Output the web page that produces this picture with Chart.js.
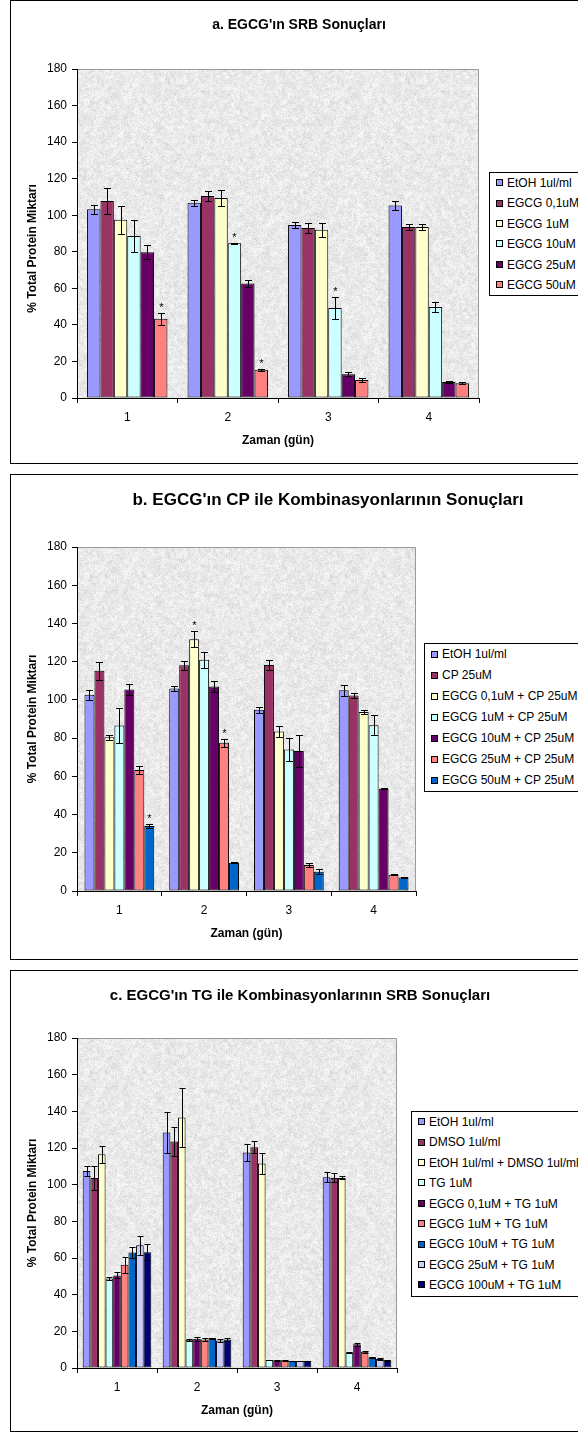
<!DOCTYPE html>
<html>
<head>
<meta charset="utf-8">
<script src="https://cdn.jsdelivr.net/npm/chart.js@4.4.1/dist/chart.umd.min.js"></script>
<style>
  html, body { margin: 0; padding: 0; background: #fff; }
  body { position: relative; width: 578px; height: 1433px; overflow: hidden; font-family: Arial, "Liberation Sans", sans-serif; color: #000; }
  .frame { position: absolute; left: 10px; width: 640px; border: 1px solid #000; box-sizing: border-box; }
  canvas { position: absolute; left: 0; }
  .title { position: absolute; transform: translate(-50%, -50%); white-space: nowrap; font-weight: bold; }
  .legend { position: absolute; width: 220px; border: 1px solid #000; background: #fff; font-size: 12px; }
  .legend div { position: relative; white-space: nowrap; }
  .legend span { position: absolute; top: 50%; width: 7px; height: 7px; margin-top: -4px; border: 1px solid #000; box-sizing: border-box; }
</style>
</head>
<body>
<div class="frame" style="top:0;height:464px"></div>
<div class="frame" style="top:474px;height:486px"></div>
<div class="frame" style="top:970px;height:462px"></div>

<canvas id="srbChart" width="578" height="463" style="top:0"></canvas>
<canvas id="cpChart" width="578" height="485" style="top:474px"></canvas>
<canvas id="tgChart" width="578" height="461" style="top:970px"></canvas>

<div class="title" style="left:299px;top:24px;font-size:14px">a. EGCG'ın SRB Sonuçları</div>
<div class="title" style="left:328px;top:500px;font-size:17px">b. EGCG'ın CP ile Kombinasyonlarının Sonuçları</div>
<div class="title" style="left:300px;top:994px;font-size:15px">c. EGCG'ın TG ile Kombinasyonlarının SRB Sonuçları</div>

<div class="legend" id="srbLegend" style="left:489px;top:172px"></div>
<div class="legend" id="cpLegend" style="left:424px;top:643px"></div>
<div class="legend" id="tgLegend" style="left:411px;top:1111px"></div>

<script>
const days = ['1', '2', '3', '4'];

// a. EGCG alone
const srbSeries = ['EtOH 1ul/ml', 'EGCG 0,1uM', 'EGCG 1uM', 'EGCG 10uM', 'EGCG 25uM', 'EGCG 50uM'];
const srbValues = [
  [103.3, 106.8, 94.6, 105.3],
  [107.8, 110.5, 93.0, 93.5],
  [97.5, 109.4, 92.0, 93.5],
  [88.7, 84.7, 49.3, 49.8],
  [79.8, 62.6, 13.0, 8.7],
  [43.3, 15.5, 9.8, 8.1],
];
const srbErrors = [
  [2.5, 1.7, 1.5, 2.5],
  [6.9, 2.6, 2.5, 1.5],
  [7.5, 4.5, 4.0, 1.5],
  [8.6, 0.3, 6.2, 2.5],
  [3.9, 1.8, 1.2, 0.5],
  [3.2, 0.5, 1.2, 0.6],
];
const srbStars = [
  [0, 0, 0, 0],
  [0, 0, 0, 0],
  [0, 0, 0, 0],
  [0, 1, 1, 0],
  [0, 0, 0, 0],
  [1, 1, 0, 0],
];

// b. EGCG + CP
const cpSeries = ['EtOH 1ul/ml', 'CP 25uM', 'EGCG 0,1uM + CP 25uM', 'EGCG 1uM + CP 25uM',
  'EGCG 10uM + CP 25uM', 'EGCG 25uM + CP 25uM', 'EGCG 50uM + CP 25uM'];
const cpValues = [
  [102.7, 106.0, 94.8, 105.0],
  [115.2, 118.1, 118.3, 102.3],
  [80.4, 131.7, 83.5, 93.7],
  [86.6, 121.0, 74.1, 86.7],
  [105.5, 107.0, 73.3, 53.5],
  [63.3, 77.6, 13.6, 8.5],
  [34.0, 14.8, 10.1, 7.0],
];
const cpErrors = [
  [2.6, 1.4, 1.4, 2.9],
  [4.6, 2.2, 2.8, 1.3],
  [1.2, 4.1, 3.0, 1.1],
  [9.2, 4.2, 6.2, 5.3],
  [2.9, 3.0, 8.5, 0.3],
  [2.0, 2.1, 1.2, 0.3],
  [1.0, 0.3, 1.4, 0.3],
];
const cpStars = [
  [0, 0, 0, 0],
  [0, 0, 0, 0],
  [0, 1, 0, 0],
  [0, 0, 0, 0],
  [0, 0, 0, 0],
  [0, 1, 0, 0],
  [1, 0, 0, 0],
];

// c. EGCG + TG
const tgSeries = ['EtOH 1ul/ml', 'DMSO 1ul/ml', 'EtOH 1ul/ml + DMSO 1ul/ml', 'TG 1uM',
  'EGCG 0,1uM + TG 1uM', 'EGCG 1uM + TG 1uM', 'EGCG 10uM + TG 1uM',
  'EGCG 25uM + TG 1uM', 'EGCG 100uM + TG 1uM'];
const tgValues = [
  [107.5, 128.5, 117.6, 104.1],
  [103.6, 123.6, 120.4, 103.7],
  [116.6, 136.7, 111.6, 103.7],
  [48.8, 15.4, 4.4, 8.4],
  [50.5, 15.9, 4.2, 12.9],
  [56.3, 15.5, 4.2, 8.8],
  [63.0, 16.2, 3.8, 5.8],
  [67.0, 15.0, 3.8, 4.9],
  [63.2, 15.6, 3.8, 4.2],
];
const tgErrors = [
  [2.5, 11.0, 4.6, 2.7],
  [6.5, 8.0, 3.2, 2.4],
  [4.6, 16.3, 5.8, 0.8],
  [0.6, 0.5, 0.2, 0.3],
  [1.6, 1.0, 0.3, 1.0],
  [4.5, 0.6, 0.3, 0.6],
  [2.8, 0.3, 0.2, 0.3],
  [5.1, 1.0, 0.2, 0.3],
  [4.4, 1.0, 0.2, 0.4],
];
const tgStars = tgSeries.map(() => [0, 0, 0, 0]);

const srbColors = ['#9999ff', '#993366', '#ffffcc', '#ccffff', '#660066', '#ff8080'];
const cpColors = ['#9999ff', '#993366', '#ffffcc', '#ccffff', '#660066', '#ff8080', '#0066cc'];
const tgColors = ['#9999ff', '#993366', '#ffffcc', '#ccffff', '#660066', '#ff8080', '#0066cc', '#ccccff', '#000080'];

const FONT = 'Arial, "Liberation Sans", sans-serif';
Chart.defaults.font.family = FONT;
Chart.defaults.font.size = 12;
Chart.defaults.color = '#000';

// granite-like grey texture for the plot area (fixed hash noise, fine grain + soft blotches)
const hash = (x, y) => Math.abs(Math.sin(x * 12.9898 + y * 78.233) * 43758.5453) % 1;
const TEX = 240;
const texture = document.createElement('canvas');
texture.width = texture.height = TEX;
(() => {
  const g = texture.getContext('2d');
  const img = g.createImageData(TEX, TEX);
  for (let y = 0; y < TEX; y++) {
    for (let x = 0; x < TEX; x++) {
      const h = hash(x, y);
      const v = Math.round(251 - 24 * h * h);
      const k = (y * TEX + x) * 4;
      img.data[k] = img.data[k + 1] = img.data[k + 2] = v;
      img.data[k + 3] = 255;
    }
  }
  g.putImageData(img, 0, 0);

  const n = TEX / 3;
  const coarse = document.createElement('canvas');
  coarse.width = coarse.height = n;
  const cg = coarse.getContext('2d');
  const cimg = cg.createImageData(n, n);
  for (let y = 0; y < n; y++) {
    for (let x = 0; x < n; x++) {
      const v = Math.round(255 - 20 * hash(x + 300, y + 500));
      const k = (y * n + x) * 4;
      cimg.data[k] = cimg.data[k + 1] = cimg.data[k + 2] = v;
      cimg.data[k + 3] = 255;
    }
  }
  cg.putImageData(cimg, 0, 0);
  g.globalCompositeOperation = 'multiply';
  g.imageSmoothingEnabled = true;
  g.drawImage(coarse, 0, 0, TEX, TEX);
})();

const plotArea = {
  id: 'plotArea',
  beforeDraw(chart) {
    const { ctx, chartArea: a } = chart;
    ctx.save();
    ctx.fillStyle = ctx.createPattern(texture, 'repeat');
    ctx.fillRect(a.left, a.top, a.width, a.height);
    ctx.strokeStyle = '#9a9a9a';
    ctx.lineWidth = 1;
    ctx.beginPath();
    ctx.moveTo(a.left, a.top + 0.5);
    ctx.lineTo(a.right - 0.5, a.top + 0.5);
    ctx.lineTo(a.right - 0.5, a.bottom);
    ctx.stroke();
    ctx.restore();
  },
};

// y axis title, centred on the plot area with an optional shift (Excel put panel a's a bit low)
const yTitle = {
  id: 'yTitle',
  afterDraw(chart, args, opts) {
    const { ctx, chartArea: a } = chart;
    ctx.save();
    ctx.translate(opts.x, (a.top + a.bottom) / 2 + opts.shift);
    ctx.rotate(-Math.PI / 2);
    ctx.font = 'bold 12px ' + FONT;
    ctx.fillStyle = '#000';
    ctx.textAlign = 'center';
    ctx.textBaseline = 'middle';
    ctx.fillText(opts.text, 0, 0);
    ctx.restore();
  },
};

const errorBars = {
  id: 'errorBars',
  afterDatasetsDraw(chart, args, opts) {
    const { ctx } = chart;
    const y = chart.scales.y;
    ctx.save();
    ctx.strokeStyle = '#000';
    ctx.fillStyle = '#000';
    ctx.lineWidth = 1;
    ctx.font = '11px ' + FONT;
    ctx.textAlign = 'center';
    ctx.textBaseline = 'alphabetic';
    chart.data.datasets.forEach((ds, i) => {
      chart.getDatasetMeta(i).data.forEach((bar, j) => {
        const v = ds.data[j];
        const e = ds.errors[j];
        const top = Math.round(y.getPixelForValue(v + e)) + 0.5;
        const bot = Math.round(y.getPixelForValue(v - e)) + 0.5;
        const x = Math.round(bar.x) + 0.5;
        ctx.beginPath();
        ctx.moveTo(x, top);
        ctx.lineTo(x, bot);
        ctx.moveTo(x - opts.cap, top);
        ctx.lineTo(x + opts.cap, top);
        ctx.moveTo(x - opts.cap, bot);
        ctx.lineTo(x + opts.cap, bot);
        ctx.stroke();
        if (ds.stars[j]) ctx.fillText('*', x, top - 3);
      });
    });
    ctx.restore();
  },
};

function drawPanel(id, series, values, errors, stars, colors, padding, cap, titleShift) {
  return new Chart(document.getElementById(id), {
    type: 'bar',
    data: {
      labels: days,
      datasets: series.map((name, i) => ({
        label: name,
        data: values[i],
        errors: errors[i],
        stars: stars[i],
        backgroundColor: colors[i],
        borderColor: '#000',
        borderWidth: 1,
        borderSkipped: false,
        barPercentage: 1,
        categoryPercentage: series.length / (series.length + 1.5),
      })),
    },
    options: {
      responsive: false,
      animation: false,
      events: [],
      layout: { padding },
      plugins: {
        legend: { display: false },
        tooltip: { enabled: false },
        errorBars: { cap },
        yTitle: { text: '% Total Protein Miktarı', x: 33, shift: titleShift },
      },
      scales: {
        x: {
          grid: { offset: true, drawOnChartArea: false, tickLength: 5, color: '#000' },
          border: { color: '#000' },
          ticks: { padding: 7 },
          title: { display: true, text: 'Zaman (gün)', font: { size: 12, weight: 'bold' } },
          afterFit: (s) => { s.height = 54; },
        },
        y: {
          min: 0,
          max: 180,
          ticks: { stepSize: 20, padding: 5 },
          grid: { drawOnChartArea: false, tickLength: 5, color: '#000' },
          border: { color: '#000' },
          afterFit: (s) => { s.width = 56; },
        },
      },
    },
    plugins: [plotArea, errorBars, yTitle],
  });
}

function fillLegend(id, series, colors, rowHeight) {
  const box = document.getElementById(id);
  series.forEach((name, i) => {
    const row = document.createElement('div');
    row.style.height = row.style.lineHeight = rowHeight + 'px';
    row.style.paddingLeft = '17px';
    const sw = document.createElement('span');
    sw.style.left = '6px';
    sw.style.background = colors[i];
    row.appendChild(sw);
    row.appendChild(document.createTextNode(name));
    box.appendChild(row);
  });
}

drawPanel('srbChart', srbSeries, srbValues, srbErrors, srbStars, srbColors,
  { left: 21, right: 99, top: 69, bottom: 11 }, 3.5, 15);
drawPanel('cpChart', cpSeries, cpValues, cpErrors, cpStars, cpColors,
  { left: 21, right: 162, top: 73, bottom: 14 }, 3.5, 0);
drawPanel('tgChart', tgSeries, tgValues, tgErrors, tgStars, tgColors,
  { left: 21, right: 181, top: 68, bottom: 9 }, 3, 0);

fillLegend('srbLegend', srbSeries, srbColors, 20.4);
fillLegend('cpLegend', cpSeries, cpColors, 21);
fillLegend('tgLegend', tgSeries, tgColors, 20.4);
</script>
</body>
</html>
